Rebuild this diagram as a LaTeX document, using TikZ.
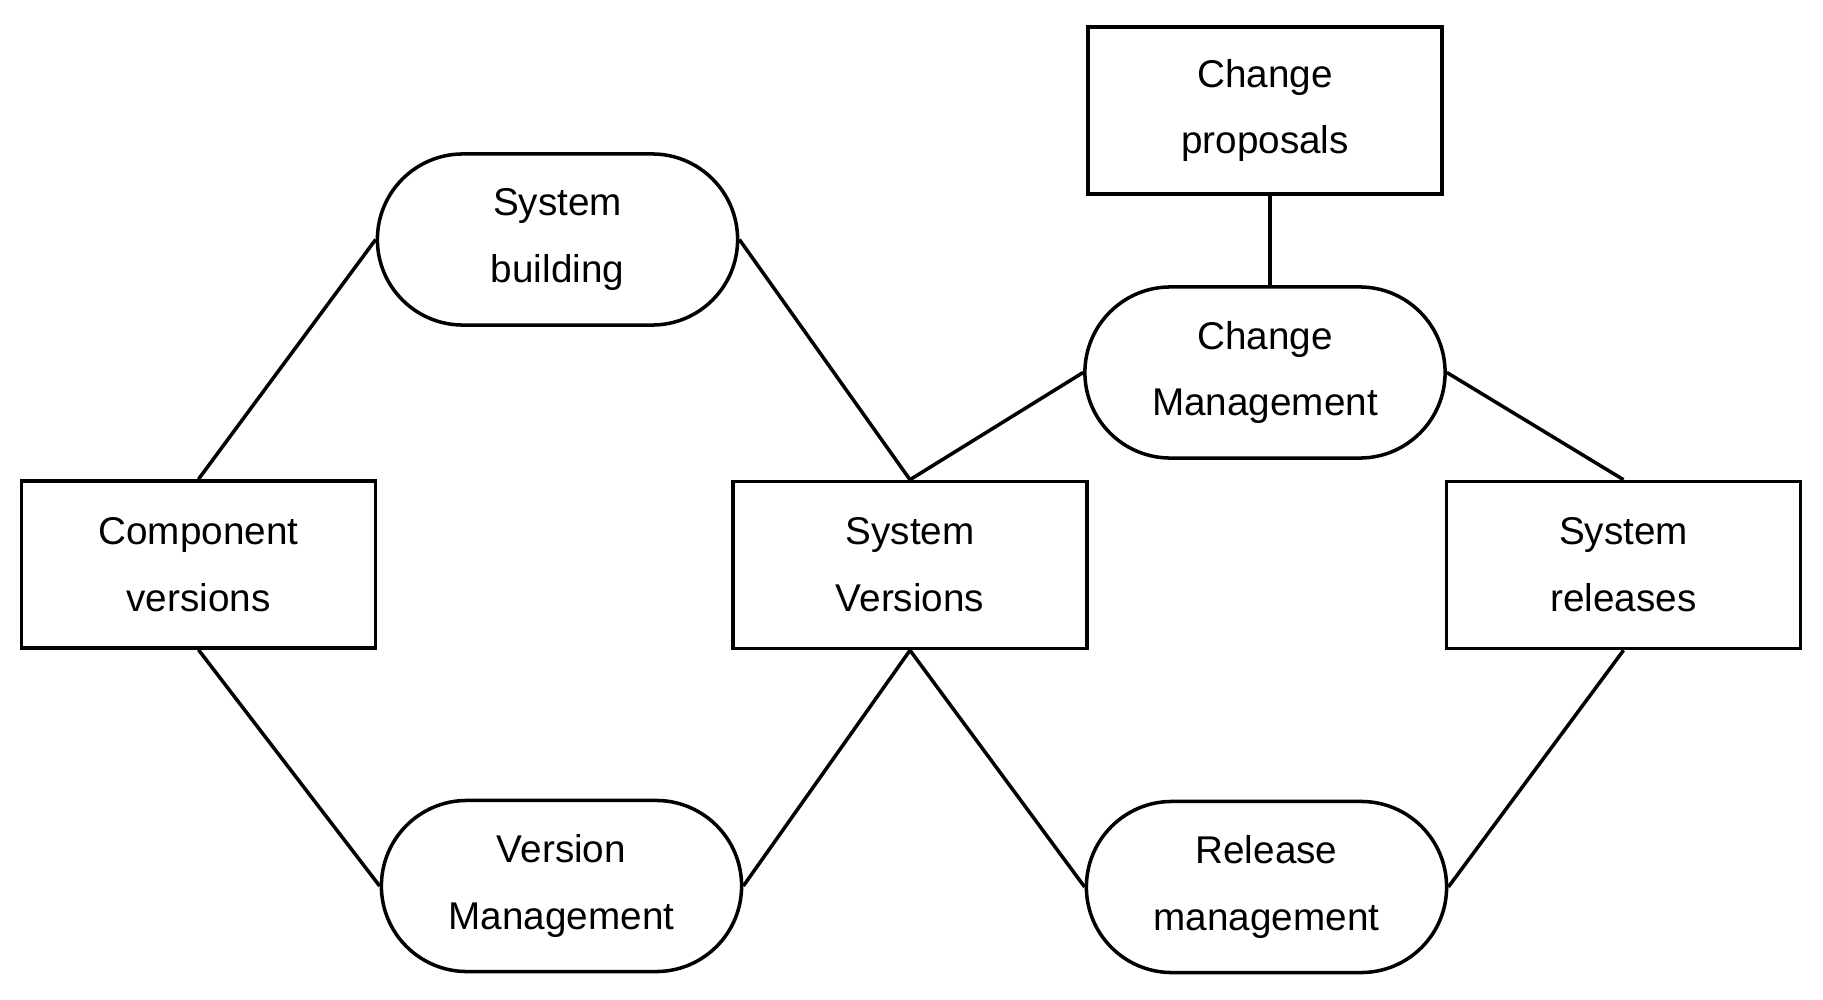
\documentclass[tikz,border=0pt]{standalone}
\usepackage{fontspec}
\setmainfont{Liberation Sans}
\usetikzlibrary{shapes.misc}
\begin{document}
\begin{tikzpicture}[x=0.01cm,y=-0.01cm,
  every node/.style={font=\fontsize{11}{19}\selectfont, align=center, inner sep=0pt, line width=1pt, draw=black},
  boxnode/.style={rectangle, minimum width=3.54cm, minimum height=1.67cm},
  pill/.style={rounded rectangle, rounded rectangle arc length=180, minimum width=3.6cm, minimum height=1.71cm},
  link/.style={line width=1pt, draw=black}]
\useasboundingbox (0,0) rectangle (1823,1000);
\node[boxnode] (cp) at (1265,110.5) {Change\\proposals};
\node[pill] (sb) at (557.5,239.5) {System\\building};
\node[pill] (cm) at (1265,372.5) {Change\\Management};
\node[boxnode] (cv) at (198.5,564.5) {Component\\versions};
\node[boxnode] (sv) at (910,565) {System\\Versions};
\node[boxnode] (sr) at (1623.5,565) {System\\releases};
\node[pill] (vm) at (561.5,886) {Version\\Management};
\node[pill] (rm) at (1266.5,887) {Release\\management};
\draw[link] (cv.north) -- (sb.west);
\draw[link] (sb.east) -- (sv.north);
\draw[link] (sv.north) -- (cm.west);
\draw[link] (cm.east) -- (sr.north);
\draw[link] ([xshift=0.05cm]cp.south) -- ([xshift=0.05cm]cm.north);
\draw[link] (cv.south) -- (vm.west);
\draw[link] (vm.east) -- (sv.south);
\draw[link] (sv.south) -- (rm.west);
\draw[link] (sr.south) -- (rm.east);
\end{tikzpicture}
\end{document}
